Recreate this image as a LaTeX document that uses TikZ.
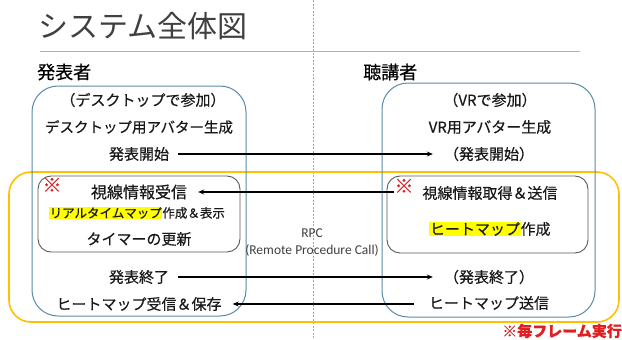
\documentclass[tikz,border=0pt]{standalone}
\usepackage{fontspec}
\setmainfont{Noto Sans CJK JP}[FakeBold=0.5]
\newfontfamily\titlefont{Noto Sans CJK JP}
\newfontfamily\latinfont{Carlito}
\usetikzlibrary{arrows.meta}
\definecolor{titlegray}{HTML}{404040}
\definecolor{boxblue}{HTML}{5B8BA6}
\definecolor{frameorange}{HTML}{FFC000}
\definecolor{innergray}{HTML}{595959}
\definecolor{markred}{HTML}{E02020}
\definecolor{hl}{HTML}{FFFF00}
\newcommand{\hlt}[1]{{\setlength{\fboxsep}{0.6pt}\colorbox{hl}{#1}}}
\tikzset{
  txt/.style={inner sep=1pt, text=black!90, font=\fontsize{15}{17}\selectfont},
  flow/.style={line width=1.3pt, -{Stealth[length=6pt,width=5pt]}},
  outerbox/.style={draw=boxblue, line width=1pt, rounded corners=26pt},
  innerbox/.style={draw=innergray, line width=0.9pt, rounded corners=13pt},
  framebox/.style={draw=frameorange, line width=1.6pt, rounded corners=22pt},
  redmark/.style={inner sep=0pt, text=markred, font=\bfseries\fontsize{19}{20}\selectfont}
}
\begin{document}
\begin{tikzpicture}[x=1pt,y=-1pt]
\useasboundingbox (0,0) rectangle (622,340);
% separators
\draw[gray!70, line width=0.7pt, dash pattern=on 2pt off 1.5pt] (313,0) -- (313,340);
\draw[gray!60, line width=1pt] (40,51) -- (580,51);
% title and headers
\node[anchor=west, inner sep=0pt, text=titlegray, font=\titlefont\fontsize{30}{32}\selectfont] (title) at (38,26) {システム全体図};
\node[anchor=west, inner sep=0pt, font=\fontsize{18}{20}\selectfont] (pres) at (37,72) {発表者};
\node[anchor=west, inner sep=0pt, font=\fontsize{18}{20}\selectfont] (aud) at (363,72) {聴講者};
% boxes
\draw[framebox] (9,172) rectangle (619,322);
\draw[outerbox] (32,86) rectangle (246,316);
\draw[outerbox] (382,83) rectangle (595,317);
\draw[innerbox] (38,176) rectangle (240,252);
\draw[innerbox] (387,176) rectangle (588,253);
% left texts
\node[txt] (l1) at (143,100) {（デスクトップで参加）};
\node[txt, font=\fontsize{14.5}{17}\selectfont] (l2) at (139,127) {デスクトップ用アバター生成};
\node[txt] (l3) at (139,154) {発表開始};
\node[redmark] (lm) at (52,185) {※};
\node[txt, font=\fontsize{16}{18}\selectfont] (l4) at (139,192) {視線情報受信};
\node[txt, font=\fontsize{12.5}{15}\selectfont] (l5) at (137,213) {\hlt{リアルタイムマップ}作成＆表示};
\node[txt] (l6) at (139,239) {タイマーの更新};
\node[txt] (l7) at (139,277) {発表終了};
\node[txt] (l8) at (139,304) {ヒートマップ受信＆保存};
% right texts
\node[txt] (r1) at (490,100) {（VRで参加）};
\node[txt] (r2) at (490,127) {VR用アバター生成};
\node[txt] (r3) at (489,154) {（発表開始）};
\node[redmark] (rm) at (404,186) {※};
\node[txt] (r4) at (490,193) {視線情報取得＆送信};
\node[txt] (r5) at (490,229) {\hlt{ヒートマップ}作成};
\node[txt] (r6) at (489,277) {（発表終了）};
\node[txt] (r7) at (489,303) {ヒートマップ送信};
% RPC label
\node[inner sep=0pt, text=titlegray, font=\latinfont\fontsize{13.5}{15}\selectfont] (rpc) at (312,233) {RPC};
\node[inner sep=0pt, text=titlegray, font=\latinfont\fontsize{13.5}{15}\selectfont] (rpc2) at (312,250) {(Remote Procedure Call)};
% footnote
\node[anchor=east, inner sep=0pt, text=markred, font=\bfseries\fontsize{15}{17}\selectfont] (note) at (622,331) {※毎フレーム実行};
% connectors
\draw[flow, shorten <=8pt, shorten >=10pt] (l3.east) -- (r3.west);
\draw[flow, shorten <=8pt, shorten >=10pt] (l7.east) -- (r6.west |- l7.east);
\draw[flow, shorten >=10pt] (rm.west |- l4.east) -- (l4.east);
\draw[flow, shorten <=14pt, shorten >=10pt] (r7.west |- l8.east) -- (l8.east);
\end{tikzpicture}
\end{document}
